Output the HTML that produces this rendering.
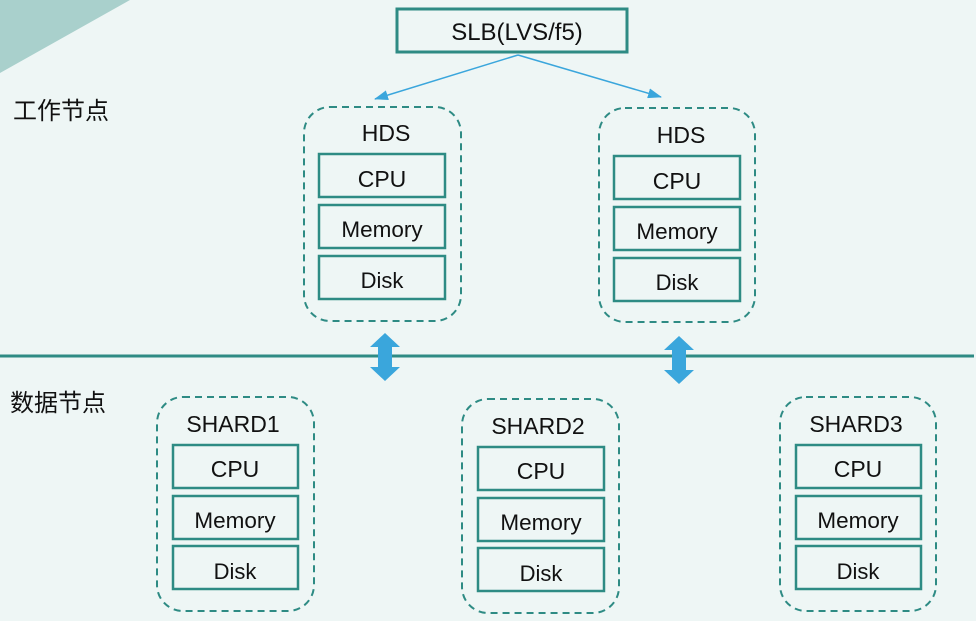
<!DOCTYPE html>
<html><head><meta charset="utf-8"><style>
html,body{margin:0;padding:0;background:#eef6f5;}
svg{display:block}
text{font-family:"Liberation Sans","Noto Sans CJK SC",sans-serif;fill:#111;text-anchor:middle;}
</style></head><body>
<svg width="976" height="621" viewBox="0 0 976 621" xmlns="http://www.w3.org/2000/svg">
<defs>
<marker id="ah" markerWidth="14" markerHeight="10" refX="13" refY="5" orient="auto" markerUnits="userSpaceOnUse">
<path d="M0,0 L14,5 L0,10 Z" fill="#3aa6dc"/></marker>
</defs>
<rect width="976" height="621" fill="#eef6f5"/>
<polygon points="0,0 130,0 0,73" fill="#a9d0cc"/>
<text x="61" y="119" style="font-size:24px;text-anchor:middle">工作节点</text>
<text x="58" y="411" style="font-size:24px;text-anchor:middle">数据节点</text>

<rect x="397" y="9" width="230" height="43" fill="none" stroke="#2e8b84" stroke-width="3"/>
<text x="517" y="40" style="font-size:24px">SLB(LVS/f5)</text>
<line x1="518" y1="55" x2="375" y2="99" stroke="#3aa6dc" stroke-width="1.5" marker-end="url(#ah)"/>
<line x1="518" y1="55" x2="661" y2="97" stroke="#3aa6dc" stroke-width="1.5" marker-end="url(#ah)"/>

<line x1="0" y1="356" x2="974" y2="356" stroke="#2e8b84" stroke-width="3"/>
<polygon points="385,333 400,347 392,347 392,367 400,367 385,381 370,367 378,367 378,347 370,347" fill="#3aa6dc"/>
<polygon points="679,336 694,350 686,350 686,370 694,370 679,384 664,370 672,370 672,350 664,350" fill="#3aa6dc"/>

<g fill="none" stroke="#2e8b84" stroke-width="2" stroke-dasharray="7,5">
<rect x="304" y="107" width="157" height="214" rx="26"/>
<rect x="599" y="108" width="156" height="214" rx="26"/>
<rect x="157" y="397" width="157" height="214" rx="26"/>
<rect x="462" y="399" width="157" height="214" rx="26"/>
<rect x="780" y="397" width="156" height="214" rx="26"/>
</g>
<g fill="none" stroke="#2e8b84" stroke-width="2.5">
<rect x="319" y="154" width="126" height="43"/><rect x="319" y="205" width="126" height="43"/><rect x="319" y="256" width="126" height="43"/>
<rect x="614" y="156" width="126" height="43"/><rect x="614" y="207" width="126" height="43"/><rect x="614" y="258" width="126" height="43"/>
<rect x="173" y="445" width="125" height="43"/><rect x="173" y="496" width="125" height="43"/><rect x="173" y="546" width="125" height="43"/>
<rect x="478" y="447" width="126" height="43"/><rect x="478" y="498" width="126" height="43"/><rect x="478" y="548" width="126" height="43"/>
<rect x="796" y="445" width="125" height="43"/><rect x="796" y="496" width="125" height="43"/><rect x="796" y="546" width="125" height="43"/>
</g>
<g style="font-size:23px">
<text x="386" y="141">HDS</text>
<text x="382" y="187">CPU</text><text x="382" y="237" style="font-size:22.5px">Memory</text><text x="382" y="288" style="font-size:22px">Disk</text>
<text x="681" y="143">HDS</text>
<text x="677" y="189">CPU</text><text x="677" y="239" style="font-size:22.5px">Memory</text><text x="677" y="290" style="font-size:22px">Disk</text>
<text x="233" y="432">SHARD1</text>
<text x="235" y="477">CPU</text><text x="235" y="528" style="font-size:22.5px">Memory</text><text x="235" y="579" style="font-size:22px">Disk</text>
<text x="538" y="434">SHARD2</text>
<text x="541" y="479">CPU</text><text x="541" y="530" style="font-size:22.5px">Memory</text><text x="541" y="581" style="font-size:22px">Disk</text>
<text x="856" y="432">SHARD3</text>
<text x="858" y="477">CPU</text><text x="858" y="528" style="font-size:22.5px">Memory</text><text x="858" y="579" style="font-size:22px">Disk</text>
</g>
</svg>
</body></html>
